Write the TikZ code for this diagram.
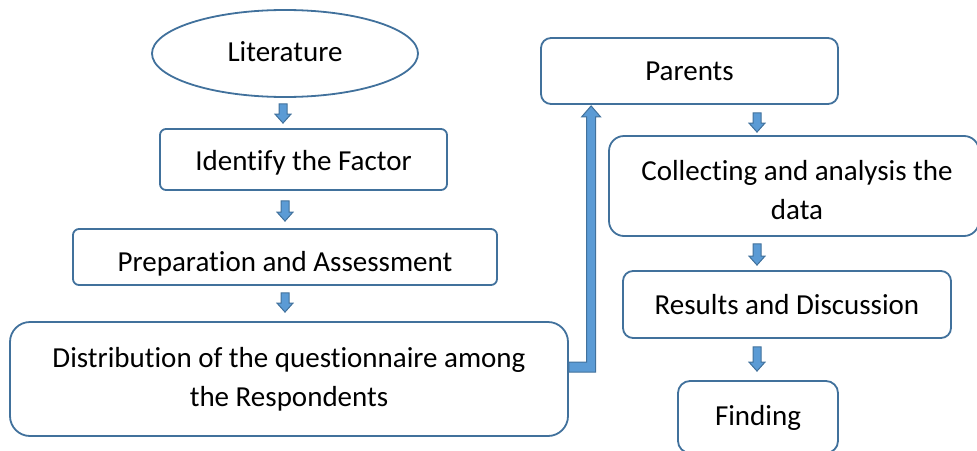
\documentclass[tikz,border=0pt]{standalone}
\usepackage{fontspec}
\setmainfont{Carlito}[Ligatures=NoCommon]
\usetikzlibrary{shapes.geometric,calc}
\definecolor{bord}{HTML}{41719C}
\definecolor{afill}{HTML}{5B9BD5}
\tikzset{
  box/.style={draw=bord, line width=1.8pt, fill=white, align=center, inner sep=0pt,
    font=\fontsize{29}{39}\selectfont},
  txt/.style={align=center, inner sep=0pt, font=\fontsize{29}{39}\selectfont},
  barrow/.style={draw=bord, fill=afill, line width=1pt, line join=miter},
}
\newcommand{\blockarrow}[2]{%
  \draw[barrow] let \p1=(#1), \p2=(#2) in
    (\x1-4pt,\y1) -- (\x1+4pt,\y1) -- (\x1+4pt,\y2+9pt) -- (\x1+8pt,\y2+9pt) --
    (\x1,\y2) -- (\x1-8pt,\y2+9pt) -- (\x1-4pt,\y2+9pt) -- cycle;}
\begin{document}
\begin{tikzpicture}[x=1pt,y=-1pt]
\useasboundingbox (0,0) rectangle (977,450);
\clip (0,0) rectangle (977,450);
\node[box, ellipse, minimum width=266pt, minimum height=87pt] (lit) at (285,53.5) {};
\node[txt] (litt) at ($(lit.center)+(0,-1.5)$) {Literature};
\node[box, rounded corners=6pt, minimum width=287pt, minimum height=61pt] (ide) at (303.5,159.5) {};
\node[txt] (idet) at ($(ide.center)+(0,3)$) {Identify the Factor};
\node[box, rounded corners=6pt, minimum width=424pt, minimum height=56pt] (pre) at (285,257) {};
\node[txt] (pret) at ($(pre.center)+(0,7)$) {Preparation and Assessment};
\node[box, rounded corners=20pt, minimum width=558pt, minimum height=114pt] (dis) at (289,379) {Distribution of the questionnaire among\\the Respondents};
\node[box, rounded corners=10pt, minimum width=297pt, minimum height=66pt] (par) at (689.5,71) {Parents};
\node[box, rounded corners=15pt, minimum width=370pt, minimum height=100pt] (col) at (794,186) {};
\node[txt] (colt) at ($(col.center)+(3,4)$) {Collecting and analysis the\\data};
\node[box, rounded corners=10pt, minimum width=328pt, minimum height=67pt] (res) at (787,304.5) {Results and Discussion};
\node[box, rounded corners=12pt, minimum width=160pt, minimum height=72pt] (fin) at (758,417) {};
\node[txt] (fint) at ($(fin.center)+(0,1)$) {Finding};

\coordinate (a1s) at ($(lit.south)+(-2,6)$);
\coordinate (a1e) at ($(ide.north)+(-20.5,-5)$);
\blockarrow{a1s}{a1e}
\coordinate (a2s) at ($(ide.south)+(-18.5,10)$);
\coordinate (a2e) at ($(pre.north)+(0,-7)$);
\blockarrow{a2s}{a2e}
\coordinate (a3s) at ($(pre.south)+(0,7)$);
\coordinate (a3e) at ($(dis.north)+(-4,-9)$);
\blockarrow{a3s}{a3e}
\coordinate (b1s) at ($(par.south)+(67.5,8)$);
\coordinate (b1e) at ($(col.north)+(-37,-3)$);
\blockarrow{b1s}{b1e}
\coordinate (b2s) at ($(col.south)+(-37,7)$);
\coordinate (b2e) at ($(res.north)+(-30,-5)$);
\blockarrow{b2s}{b2e}
\coordinate (b3s) at ($(res.south)+(-30,8)$);
\coordinate (b3e) at ($(fin.north)+(0,-9)$);
\blockarrow{b3s}{b3e}

\coordinate (bs) at ($(dis.east)+(0,-12)$);
\coordinate (btip) at ($(par.south west)+(51,1)$);
\draw[barrow] let \p1=(bs), \p2=(btip) in
  (\x1,\y1+5pt) -- (\x2-4.5pt,\y1+5pt) -- (\x2-4.5pt,\y2-11pt) -- (\x2-9.5pt,\y2-11pt) --
  (\x2,\y2) -- (\x2+9.5pt,\y2-11pt) -- (\x2+4.5pt,\y2-11pt) -- (\x2+4.5pt,\y1-5pt) --
  (\x1,\y1-5pt) -- cycle;
\end{tikzpicture}
\end{document}
